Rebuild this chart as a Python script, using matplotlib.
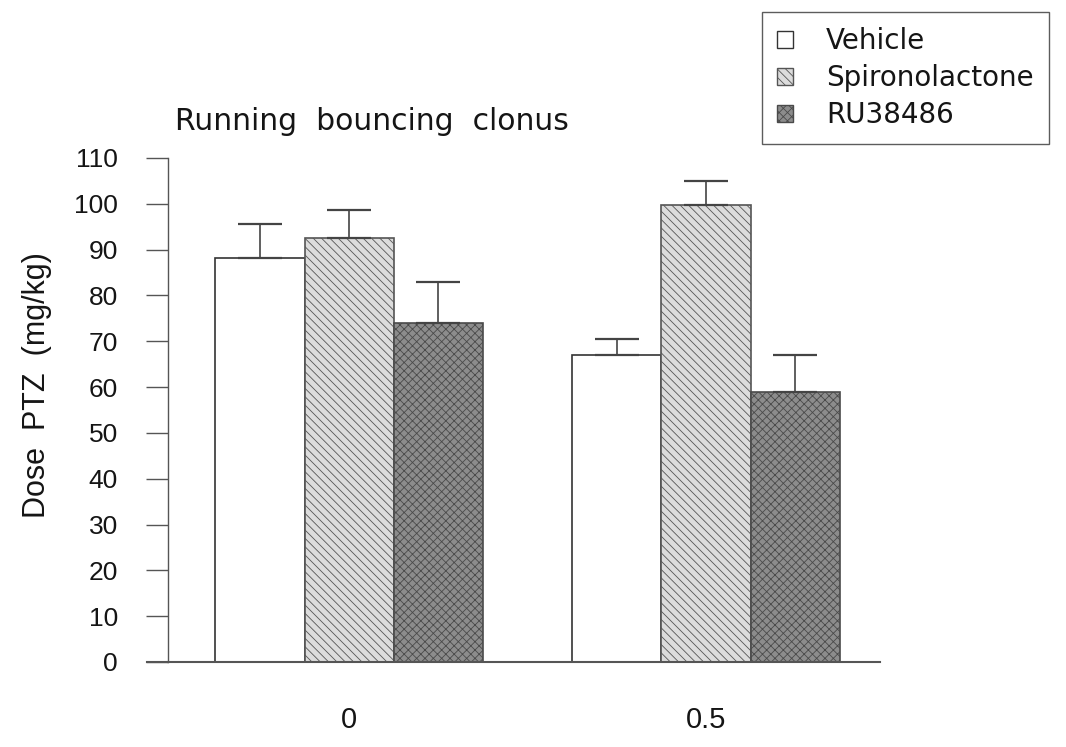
"""
Running bouncing clonus - PTZ threshold dose per treatment group
"""
import matplotlib
matplotlib.use("Agg")
import matplotlib.pyplot as plt
from matplotlib.patches import Patch
import numpy as np

# Data
doses = ["0", "0.5"]
treatments = ["Vehicle", "Spironolactone", "RU38486"]
means = {
    "Vehicle":        [88.2, 67.0],
    "Spironolactone": [92.6, 99.8],
    "RU38486":        [74.0, 59.0],
}
sems = {
    "Vehicle":        [7.4, 3.5],
    "Spironolactone": [6.1, 5.2],
    "RU38486":        [9.0, 8.0],
}
yticks = list(range(0, 111, 10))

styles = {
    "Vehicle":        dict(facecolor="white",   hatch=None,       edgecolor="#333333"),
    "Spironolactone": dict(facecolor="#dcdcdc", hatch="\\\\\\\\", edgecolor="#555555"),
    "RU38486":        dict(facecolor="#8c8c8c", hatch="xxxx",     edgecolor="#4a4a4a"),
}

plt.rcParams["hatch.linewidth"] = 0.6
plt.rcParams["font.family"] = ["Liberation Sans", "DejaVu Sans"]
txt = "#151515"

fig = plt.figure(figsize=(10.66, 7.47), dpi=100)
ax = fig.add_axes([0.1576, 0.1138, 0.6679, 0.6747])

width = 1.0
group_pos = np.array([1.0, 5.0])
for i, name in enumerate(treatments):
    x = group_pos + (i - 1) * width
    st = styles[name]
    ax.bar(x, means[name], width=width, facecolor=st["facecolor"],
           edgecolor=st["edgecolor"], hatch=st["hatch"], linewidth=1.2, zorder=2)
    ax.errorbar(x, means[name], yerr=[np.zeros(2), sems[name]], fmt="none",
                ecolor="#444444", elinewidth=1.2, capsize=16, capthick=1.6, zorder=3)

ax.set_xlim(-1.03, 6.95)
ax.set_ylim(0, 110)
ax.set_yticks(yticks)
ax.set_xticks(group_pos)
ax.set_xticklabels(doses)
ax.tick_params(axis="y", direction="out", length=16, width=1.0, pad=20,
               labelsize=19, colors="#555555", labelcolor=txt)
ax.tick_params(axis="x", length=0, pad=32, labelsize=21, labelcolor=txt)
for s in ["top", "right"]:
    ax.spines[s].set_visible(False)
ax.spines["left"].set_color("#555555")
ax.spines["bottom"].set_color("#555555")
ax.spines["left"].set_linewidth(1.0)
ax.spines["bottom"].set_linewidth(1.5)
# bottom line runs a bit past the y axis, like the original
ax.plot([-1.27, -1.03], [0, 0], color="#555555", lw=1.5, clip_on=False)

ax.set_ylabel("Dose  PTZ  (mg/kg)", fontsize=22, color=txt)
ax.yaxis.set_label_coords(-0.163, 0.55)
fig.text(0.164, 0.837, "Running  bouncing  clonus", fontsize=21.5,
         family="DejaVu Sans", color=txt, va="center")

handles = [Patch(facecolor=styles[n]["facecolor"], edgecolor=styles[n]["edgecolor"],
                 hatch=styles[n]["hatch"], linewidth=1.0) for n in treatments]
leg = fig.legend(handles, treatments, loc="upper left",
                 bbox_to_anchor=(0.715, 0.984), frameon=True,
                 fancybox=False, handlelength=0.55, handleheight=0.55,
                 handletextpad=1.2, borderpad=0.55, labelspacing=0.32,
                 borderaxespad=0.0,
                 prop={"family": "DejaVu Sans", "size": 20})
for t in leg.get_texts():
    t.set_color(txt)
leg.get_frame().set_edgecolor("#333333")
leg.get_frame().set_linewidth(1.0)

fig.savefig("out.png", dpi=100)
